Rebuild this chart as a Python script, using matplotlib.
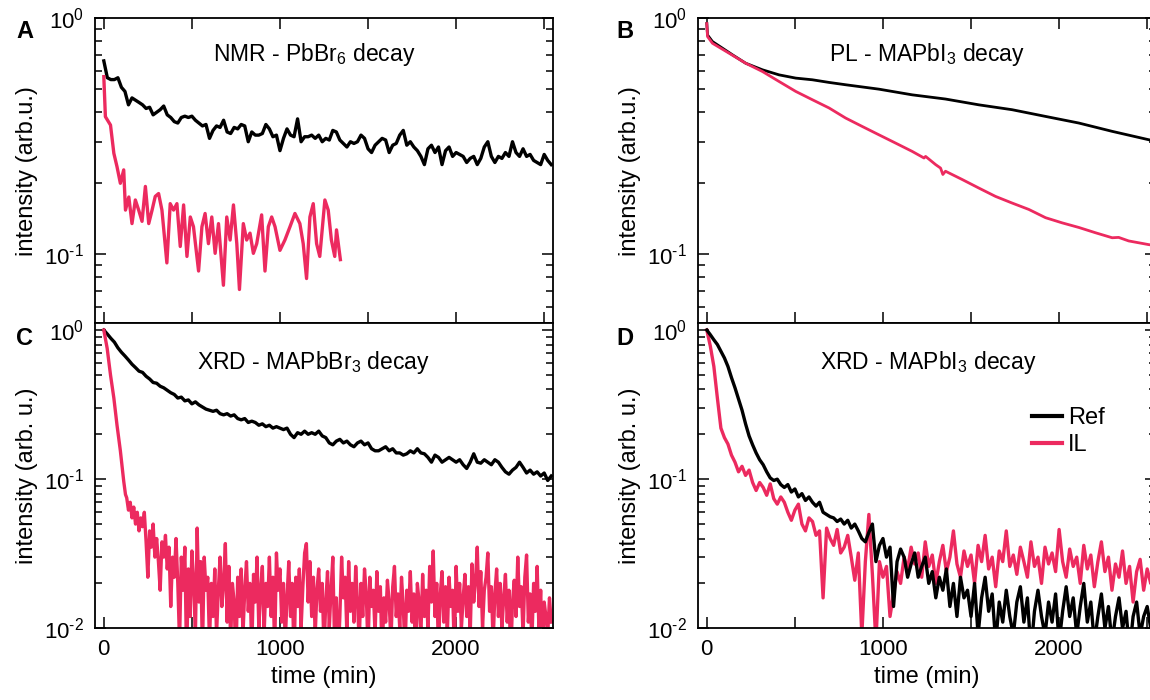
"""
Four-panel decay comparison (Ref vs IL), log intensity vs time.
Values were read off the published figure; noisy traces are resampled
on a fixed time step (STEP_*), smooth PL traces are given as (t, I) pairs.
"""
import matplotlib
matplotlib.use("Agg")
import matplotlib.pyplot as plt
import numpy as np
from matplotlib.ticker import FuncFormatter, LogLocator, MultipleLocator, NullFormatter

plt.rcParams["font.family"] = ["Liberation Sans", "DejaVu Sans"]
plt.rcParams["mathtext.fontset"] = "custom"
plt.rcParams["mathtext.rm"] = "Liberation Sans"
plt.rcParams["mathtext.it"] = "Liberation Sans:italic"
plt.rcParams["mathtext.bf"] = "Liberation Sans:bold"
plt.rcParams["axes.unicode_minus"] = False

REF_COLOR = "black"
IL_COLOR = "#EC2A5F"
STEP = 20  # min, sampling of the noisy Ref/IL traces

# ---- A: NMR - PbBr6 decay -------------------------------------------------
nmr_ref = [
    0.66, 0.56, 0.55, 0.55, 0.56, 0.51, 0.49, 0.43, 0.46, 0.45,
    0.44, 0.43, 0.415, 0.42, 0.39, 0.40, 0.41, 0.425, 0.39, 0.38,
    0.365, 0.36, 0.38, 0.385, 0.38, 0.385, 0.37, 0.36, 0.35, 0.355,
    0.31, 0.335, 0.35, 0.345, 0.37, 0.33, 0.325, 0.345, 0.34, 0.355,
    0.35, 0.30, 0.33, 0.32, 0.32, 0.325, 0.355, 0.34, 0.315, 0.32,
    0.275, 0.31, 0.34, 0.32, 0.315, 0.375, 0.30, 0.315, 0.315, 0.32,
    0.31, 0.32, 0.30, 0.31, 0.305, 0.335, 0.33, 0.305, 0.295, 0.285,
    0.30, 0.295, 0.30, 0.32, 0.31, 0.28, 0.27, 0.29, 0.30, 0.31,
    0.305, 0.27, 0.29, 0.295, 0.32, 0.335, 0.29, 0.30, 0.285, 0.275,
    0.26, 0.24, 0.28, 0.29, 0.27, 0.285, 0.24, 0.275, 0.285, 0.26,
    0.27, 0.265, 0.26, 0.245, 0.255, 0.26, 0.24, 0.255, 0.285, 0.30,
    0.26, 0.245, 0.26, 0.255, 0.27, 0.26, 0.30, 0.27, 0.26, 0.28,
    0.26, 0.265, 0.25, 0.245, 0.24, 0.265, 0.25, 0.24,
]
nmr_il_t = [
    0, 9, 38, 57, 75, 94, 113, 123, 142, 160,
    179, 198, 217, 236, 255, 274, 292, 311, 330, 358,
    377, 396, 415, 434, 453, 472, 491, 509, 538, 557,
    575, 594, 613, 632, 651, 679, 698, 717, 736, 755,
    770, 792, 811, 830, 849, 868, 896, 915, 934, 953,
    972, 1000, 1028, 1057, 1085, 1113, 1132, 1151, 1170, 1189,
    1208, 1226, 1255, 1274, 1292, 1311, 1321, 1343,
]
nmr_il = [
    0.566, 0.383, 0.353, 0.268, 0.235, 0.200, 0.228, 0.154, 0.175, 0.135,
    0.170, 0.154, 0.138, 0.194, 0.135, 0.154, 0.176, 0.181, 0.154, 0.092,
    0.164, 0.154, 0.164, 0.108, 0.162, 0.098, 0.144, 0.131, 0.085, 0.131,
    0.149, 0.111, 0.144, 0.101, 0.135, 0.074, 0.144, 0.115, 0.162, 0.111,
    0.071, 0.135, 0.115, 0.123, 0.101, 0.111, 0.147, 0.085, 0.131, 0.144,
    0.131, 0.104, 0.115, 0.131, 0.149, 0.135, 0.111, 0.079, 0.144, 0.164,
    0.111, 0.098, 0.170, 0.154, 0.115, 0.098, 0.127, 0.095,
]

# ---- B: PL - MAPbI3 decay (smooth) -----------------------------------------
pl_ref_t = [0, 4, 32, 89, 146, 221, 316, 410, 505, 599, 694, 788, 977,
            1166, 1355, 1544, 1733, 1923, 2112, 2301, 2508, 2545]
pl_ref = [0.95, 0.85, 0.797, 0.747, 0.700, 0.645, 0.605, 0.576, 0.558, 0.549,
          0.535, 0.523, 0.501, 0.474, 0.455, 0.430, 0.410, 0.384, 0.360, 0.332,
          0.306, 0.302]
pl_il_t = [0, 4, 32, 127, 221, 316, 410, 505, 599, 694, 788, 883, 977, 1072,
           1166, 1233, 1242, 1299, 1327, 1340, 1355, 1450, 1544, 1639, 1733,
           1828, 1923, 2017, 2112, 2206, 2301, 2338, 2395, 2508, 2545]
pl_il = [0.95, 0.837, 0.784, 0.711, 0.645, 0.595, 0.540, 0.490, 0.452, 0.417,
         0.378, 0.348, 0.321, 0.296, 0.273, 0.256, 0.260, 0.240, 0.232, 0.218,
         0.225, 0.2075, 0.191, 0.176, 0.165, 0.155, 0.143, 0.136, 0.130,
         0.1235, 0.1176, 0.118, 0.114, 0.110, 0.109]

# ---- C: XRD - MAPbBr3 decay ------------------------------------------------
xbr_ref = [
    1.0, 0.94, 0.88, 0.83, 0.76, 0.71, 0.67, 0.63, 0.59, 0.56,
    0.53, 0.52, 0.49, 0.47, 0.445, 0.44, 0.42, 0.41, 0.395, 0.38,
    0.37, 0.35, 0.355, 0.335, 0.34, 0.32, 0.33, 0.315, 0.305, 0.295,
    0.29, 0.285, 0.29, 0.275, 0.27, 0.275, 0.265, 0.27, 0.255, 0.25,
    0.255, 0.24, 0.245, 0.24, 0.23, 0.235, 0.225, 0.23, 0.22, 0.225,
    0.22, 0.215, 0.22, 0.20, 0.19, 0.205, 0.20, 0.21, 0.20, 0.205,
    0.20, 0.21, 0.195, 0.19, 0.175, 0.17, 0.18, 0.185, 0.175, 0.18,
    0.17, 0.165, 0.175, 0.18, 0.17, 0.175, 0.16, 0.155, 0.155, 0.16,
    0.165, 0.155, 0.16, 0.15, 0.15, 0.145, 0.148, 0.155, 0.15, 0.16,
    0.15, 0.148, 0.14, 0.13, 0.145, 0.14, 0.13, 0.135, 0.14, 0.135,
    0.13, 0.135, 0.125, 0.118, 0.13, 0.148, 0.13, 0.128, 0.135, 0.13,
    0.125, 0.135, 0.13, 0.12, 0.112, 0.108, 0.115, 0.12, 0.13, 0.12,
    0.11, 0.115, 0.108, 0.112, 0.105, 0.11, 0.098, 0.105,
]
xbr_il_head_t = [0, 19, 38, 57, 75, 94, 113, 123]
xbr_il_head = [1.0, 0.755, 0.50, 0.35, 0.23, 0.155, 0.097, 0.079]
XBR_TAIL_T0 = 130  # min, first sample of the noisy tail
XBR_TAIL_STEP = 10  # min
xbr_il_tail = [
    0.075, 0.062, 0.07, 0.055, 0.065, 0.05, 0.06, 0.045, 0.055, 0.048,
    0.06, 0.038, 0.022, 0.045, 0.035, 0.05, 0.03, 0.04, 0.028, 0.018,
    0.038, 0.03, 0.042, 0.025, 0.035, 0.014, 0.03, 0.022, 0.04, 0.02,
    0.008, 0.03, 0.018, 0.035, 0.006, 0.025, 0.012, 0.033, 0.02, 0.009,
    0.047, 0.015, 0.028, 0.007, 0.03, 0.018, 0.022, 0.008, 0.02, 0.012,
    0.025, 0.009, 0.018, 0.03, 0.014, 0.02, 0.037, 0.011, 0.026, 0.008,
    0.02, 0.015, 0.006, 0.022, 0.012, 0.025, 0.009, 0.018, 0.028, 0.013,
    0.02, 0.007, 0.023, 0.015, 0.03, 0.01, 0.018, 0.026, 0.009, 0.02,
    0.014, 0.03, 0.012, 0.022, 0.007, 0.032, 0.018, 0.025, 0.011, 0.02,
    0.008, 0.016, 0.028, 0.012, 0.02, 0.006, 0.022, 0.014, 0.025, 0.01,
    0.019, 0.032, 0.037, 0.015, 0.028, 0.012, 0.022, 0.009, 0.018, 0.025,
    0.013, 0.02, 0.007, 0.015, 0.024, 0.01, 0.018, 0.03, 0.008, 0.016,
    0.006, 0.012, 0.03, 0.016, 0.022, 0.009, 0.028, 0.013, 0.02, 0.011,
    0.026, 0.015, 0.008, 0.02, 0.012, 0.025, 0.017, 0.007, 0.022, 0.014,
    0.018, 0.009, 0.024, 0.013, 0.019, 0.006, 0.016, 0.011, 0.021, 0.015,
    0.008, 0.019, 0.026, 0.012, 0.017, 0.01, 0.022, 0.014, 0.007, 0.018,
    0.013, 0.024, 0.011, 0.017, 0.006, 0.02, 0.015, 0.009, 0.023, 0.012,
    0.018, 0.01, 0.026, 0.015, 0.033, 0.012, 0.02, 0.007, 0.017, 0.024,
    0.011, 0.019, 0.009, 0.022, 0.014, 0.018, 0.007, 0.026, 0.013, 0.02,
    0.01, 0.016, 0.023, 0.012, 0.019, 0.009, 0.027, 0.015, 0.021, 0.035,
    0.014, 0.024, 0.01, 0.018, 0.022, 0.032, 0.013, 0.019, 0.008, 0.017,
    0.025, 0.012, 0.02, 0.01, 0.016, 0.023, 0.011, 0.018, 0.006, 0.015,
    0.021, 0.012, 0.03, 0.014, 0.019, 0.009, 0.022, 0.031, 0.011, 0.017,
    0.008, 0.02, 0.013, 0.026, 0.01, 0.018, 0.007, 0.015, 0.012, 0.009,
    0.016, 0.011,
]

# ---- D: XRD - MAPbI3 decay -------------------------------------------------
xi_ref = [
    1.0, 0.93, 0.86, 0.80, 0.72, 0.65, 0.57, 0.48, 0.41, 0.345,
    0.29, 0.235, 0.195, 0.17, 0.15, 0.135, 0.125, 0.112, 0.102, 0.098,
    0.10, 0.092, 0.088, 0.092, 0.082, 0.086, 0.076, 0.08, 0.072, 0.076,
    0.07, 0.066, 0.07, 0.06, 0.058, 0.056, 0.055, 0.052, 0.054, 0.05,
    0.053, 0.047, 0.05, 0.045, 0.04, 0.038, 0.044, 0.05, 0.028, 0.036,
    0.04, 0.03, 0.035, 0.014, 0.028, 0.034, 0.03, 0.022, 0.027, 0.032,
    0.022, 0.026, 0.03, 0.02, 0.024, 0.016, 0.022, 0.018, 0.025, 0.014,
    0.02, 0.012, 0.022, 0.016, 0.018, 0.012, 0.02, 0.009, 0.016, 0.022,
    0.013, 0.017, 0.008, 0.015, 0.011, 0.018, 0.012, 0.009, 0.015, 0.019,
    0.011, 0.016, 0.007, 0.013, 0.018, 0.012, 0.009, 0.015, 0.011, 0.017,
    0.008, 0.013, 0.019, 0.012, 0.016, 0.009, 0.014, 0.02, 0.011, 0.015,
    0.008, 0.012, 0.017, 0.01, 0.014, 0.008, 0.012, 0.016, 0.01, 0.013,
    0.007, 0.012, 0.015, 0.009, 0.012, 0.014, 0.01, 0.011,
]
xi_il = [
    1.0, 0.78, 0.57, 0.35, 0.22, 0.19, 0.172, 0.145, 0.13, 0.112,
    0.122, 0.106, 0.115, 0.095, 0.084, 0.095, 0.088, 0.078, 0.093, 0.074,
    0.068, 0.076, 0.07, 0.06, 0.053, 0.062, 0.068, 0.05, 0.045, 0.055,
    0.052, 0.042, 0.045, 0.016, 0.047, 0.04, 0.036, 0.046, 0.032, 0.035,
    0.042, 0.03, 0.021, 0.032, 0.009, 0.028, 0.058, 0.023, 0.008, 0.028,
    0.022, 0.026, 0.012, 0.017, 0.024, 0.02, 0.03, 0.025, 0.035, 0.027,
    0.032, 0.022, 0.038, 0.026, 0.031, 0.02, 0.028, 0.036, 0.024, 0.03,
    0.045, 0.027, 0.022, 0.033, 0.026, 0.031, 0.02, 0.036, 0.028, 0.042,
    0.025, 0.03, 0.019, 0.033, 0.028, 0.045, 0.026, 0.031, 0.023, 0.035,
    0.028, 0.022, 0.038, 0.026, 0.03, 0.02, 0.035, 0.027, 0.032, 0.024,
    0.046, 0.028, 0.022, 0.034, 0.026, 0.03, 0.02, 0.036, 0.025, 0.031,
    0.019, 0.028, 0.038, 0.024, 0.03, 0.018, 0.027, 0.022, 0.033, 0.02,
    0.026, 0.015, 0.024, 0.029, 0.018, 0.025, 0.02, 0.022,
]


def grid(values, t0=0, step=STEP):
    return t0 + step * np.arange(len(values))


def decade_label(v, pos):
    # plain hyphen in the exponent, as in the original figure
    return "$10^{\\text{%d}}$" % int(round(np.log10(v)))


def style(ax, ylim, top_ticks, xlabels):
    ax.set_yscale("log")
    ax.set_xlim(-50, 2550)
    ax.set_ylim(*ylim)
    ax.xaxis.set_major_locator(MultipleLocator(500))
    ax.xaxis.set_major_formatter(
        FuncFormatter(lambda v, p: f"{v:.0f}" if v % 1000 == 0 else ""))
    ax.yaxis.set_major_locator(LogLocator(base=10, numticks=10))
    ax.yaxis.set_major_formatter(FuncFormatter(decade_label))
    ax.yaxis.set_minor_locator(LogLocator(base=10, subs=np.arange(2, 10), numticks=20))
    ax.yaxis.set_minor_formatter(NullFormatter())
    ax.tick_params(which="both", direction="in", right=True, top=top_ticks,
                   labelsize=16, width=1.1, labelbottom=xlabels)
    ax.tick_params(which="major", length=8)
    ax.tick_params(which="minor", length=5)
    ax.tick_params(axis="x", pad=8)
    ax.tick_params(axis="y", pad=8)
    for sp in ax.spines.values():
        sp.set_linewidth(1.3)
    if xlabels:
        ax.set_xlabel("time (min)", fontsize=17, labelpad=4)


W, H = 1150, 700
fig = plt.figure(figsize=(W / 100, H / 100), dpi=100)
left_a, left_b = 95 / W, 698 / W
width = 458 / W
top_h = (323 - 18.3) / H
bot_h = (628.3 - 323.3) / H
ax_a = fig.add_axes([left_a, 1 - 323 / H, width, top_h])
ax_b = fig.add_axes([left_b, 1 - 323 / H, width, top_h])
ax_c = fig.add_axes([left_a, 1 - 628.3 / H, width, bot_h])
ax_d = fig.add_axes([left_b, 1 - 628.3 / H, width, bot_h])

LW_NOISY = 2.4
LW_SMOOTH = 2.0

# A
ax_a.plot(grid(nmr_ref), nmr_ref, color=REF_COLOR, lw=LW_NOISY)
ax_a.plot(nmr_il_t, nmr_il, color=IL_COLOR, lw=LW_NOISY)
style(ax_a, (0.0512, 1.0), True, False)
ax_a.set_ylabel("intensity (arb.u.)", fontsize=17, labelpad=4)
ax_a.text(0.478, 0.88, "NMR - PbBr$_6$ decay", transform=ax_a.transAxes,
          ha="center", va="center", fontsize=16.5)

# B
ax_b.plot(pl_ref_t, pl_ref, color=REF_COLOR, lw=LW_SMOOTH)
ax_b.plot(pl_il_t, pl_il, color=IL_COLOR, lw=LW_SMOOTH)
style(ax_b, (0.0512, 1.0), True, False)
ax_b.set_ylabel("intensity (arb.u.)", fontsize=17, labelpad=4)
ax_b.text(0.50, 0.88, "PL - MAPbI$_3$ decay", transform=ax_b.transAxes,
          ha="center", va="center", fontsize=16.5)

# C
xbr_il_t = np.concatenate([xbr_il_head_t, grid(xbr_il_tail, XBR_TAIL_T0, XBR_TAIL_STEP)])
ax_c.plot(grid(xbr_ref), xbr_ref, color=REF_COLOR, lw=LW_NOISY)
ax_c.plot(xbr_il_t, xbr_il_head + xbr_il_tail, color=IL_COLOR, lw=LW_NOISY)
style(ax_c, (0.01, 1.11), False, True)
ax_c.set_ylabel("intensity (arb. u.)", fontsize=17, labelpad=4)
ax_c.text(0.478, 0.87, "XRD - MAPbBr$_3$ decay", transform=ax_c.transAxes,
          ha="center", va="center", fontsize=16.5)

# D
ax_d.plot(grid(xi_il), xi_il, color=IL_COLOR, lw=LW_NOISY, label="IL")
ax_d.plot(grid(xi_ref), xi_ref, color=REF_COLOR, lw=LW_NOISY, label="Ref")
style(ax_d, (0.01, 1.11), False, True)
ax_d.set_ylabel("intensity (arb. u.)", fontsize=17, labelpad=4)
ax_d.text(0.503, 0.87, "XRD - MAPbI$_3$ decay", transform=ax_d.transAxes,
          ha="center", va="center", fontsize=16.5)
handles, labels = ax_d.get_legend_handles_labels()
leg = ax_d.legend(handles[::-1], labels[::-1], loc="upper left",
                  bbox_to_anchor=(0.73, 0.725), frameon=False, fontsize=17,
                  handlelength=1.25, handletextpad=0.25, labelspacing=0.2,
                  borderpad=0, borderaxespad=0)
for line in leg.get_lines():
    line.set_linewidth(3)

for letter, x, y in [("A", 25, 31), ("B", 625, 31), ("C", 24, 339), ("D", 625, 339)]:
    fig.text(x / W, 1 - y / H, letter, fontsize=17, fontweight="bold",
             ha="center", va="center")

fig.savefig("out.png", dpi=100)
